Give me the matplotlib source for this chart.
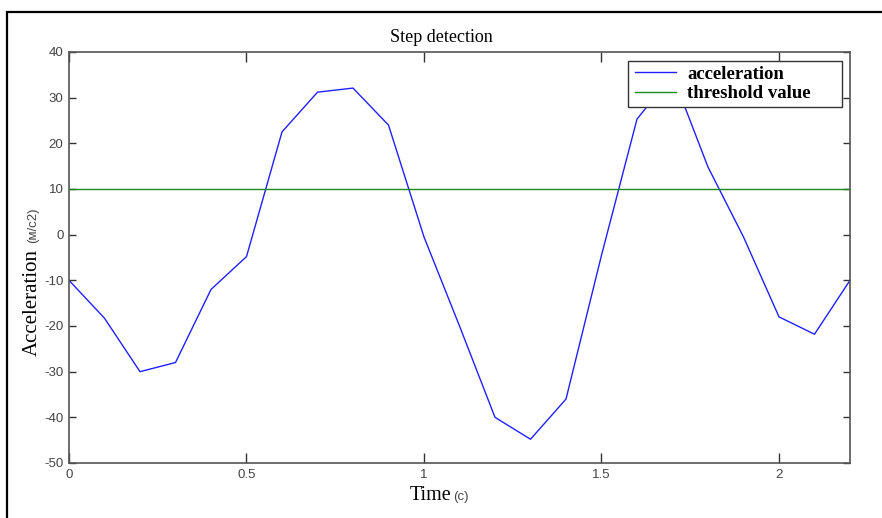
import numpy as np
import matplotlib
matplotlib.use('Agg')
import matplotlib.pyplot as plt
from matplotlib.patches import Rectangle

plt.rcParams['axes.unicode_minus'] = False

# Sampled acceleration (every 0.1 s) and threshold
time = [0.0, 0.1, 0.2, 0.3, 0.4, 0.5, 0.6, 0.7, 0.8, 0.9, 1.0, 1.1,
        1.2, 1.3, 1.4, 1.5, 1.6, 1.7, 1.8, 1.9, 2.0, 2.1, 2.2]
acceleration = [-10, -18.3, -30, -28, -12, -4.8, 22.5, 31.2, 32.1, 24, -0.5, -20,
                -40, -44.8, -36, -4.5, 25.3, 35, 14.8, -0.5, -18, -21.8, -10]
threshold = 10
x_ticks = [0, 0.5, 1, 1.5, 2]
y_ticks = [-50, -40, -30, -20, -10, 0, 10, 20, 30, 40]

W, H = 882, 518
fig = plt.figure(figsize=(W / 100, H / 100), dpi=100)
fig.patch.set_facecolor('white')

# outer frame of the original screenshot
fig.patches.append(Rectangle((7 / W, -0.1), 1.2, 1 - 12 / H + 0.1, transform=fig.transFigure,
                             fill=False, edgecolor='black', linewidth=1.6, clip_on=False))

ax = fig.add_axes([69 / W, 1 - 463 / H, 781 / W, 411 / H])
ax.plot(time, acceleration, color='#2020ff', linewidth=1.0, label='acceleration')
ax.axhline(threshold, color='#1a8a1a', linewidth=1.0, label='threshold value')

ax.set_xlim(0, 2.2)
ax.set_ylim(-50, 40)
ax.set_xticks(x_ticks)
ax.set_xticklabels(['0', '0.5', '1', '1.5', '2'])
ax.set_yticks(y_ticks)

for s in ax.spines.values():
    s.set_color('#555555')
    s.set_linewidth(1.2)
ax.tick_params(axis='both', direction='in', top=True, right=True, colors='#333333',
               labelsize=9.5, width=1.0, pad=4)
ax.tick_params(axis='x', length=7)
ax.tick_params(axis='y', length=5)
for lbl in ax.get_xticklabels() + ax.get_yticklabels():
    lbl.set_family(['Liberation Sans', 'DejaVu Sans'])
    lbl.set_color('#444444')

# legend box drawn wider than the entries, like the MATLAB original
leg_box = Rectangle((628 / W, 1 - 107 / H), 214 / W, 46 / H, transform=fig.transFigure,
                    facecolor='white', edgecolor='#333333', linewidth=1.0, zorder=4)
fig.patches.append(leg_box)
leg = ax.legend(loc='upper left', bbox_to_anchor=(630 / W, 1 - 61 / H), bbox_transform=fig.transFigure,
                prop={'family': 'Liberation Serif', 'size': 13.5, 'weight': 'bold'}, frameon=False,
                handlelength=2.2, handletextpad=0.6, borderpad=0.25, borderaxespad=0,
                labelspacing=0.12)
leg.set_zorder(5)
fig.legends.append(leg)
ax.legend_ = None

# title and axis labels (serif main text, small sans unit)
fig.text(0.5, 1 - 37 / H, 'Step detection', ha='center', va='center',
         family='Liberation Serif', fontsize=13)
fig.text(32 / W, 1 - 356 / H, 'Acceleration', rotation=90, ha='center', va='bottom',
         family='Liberation Serif', fontsize=15)
fig.text(33 / W, 1 - 243 / H, '(м/с2)', rotation=90, ha='center', va='bottom',
         family='Liberation Sans', fontsize=9.5, color='#444444')
fig.text(410 / W, 1 - 500 / H, 'Time', ha='left', va='baseline',
         family='Liberation Serif', fontsize=14.5)
fig.text(453 / W, 1 - 500 / H, '(с)', ha='left', va='baseline',
         family='Liberation Sans', fontsize=9.5, color='#444444')

fig.savefig('out.png', dpi=100)
